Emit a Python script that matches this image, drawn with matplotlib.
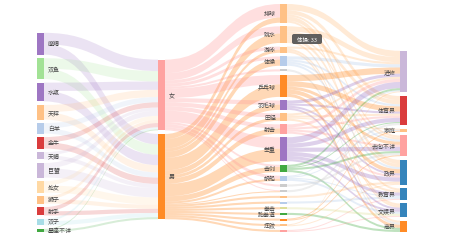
import matplotlib
matplotlib.use("Agg")
import matplotlib.pyplot as plt
from matplotlib.path import Path
from matplotlib.patches import PathPatch, Rectangle, FancyBboxPatch

plt.rcParams['font.family'] = ['Noto Sans CJK SC', 'DejaVu Sans']

# ---- data ----
zodiac = ['摩羯', '双鱼', '水瓶', '天秤', '白羊', '金牛', '天蝎', '巨蟹',
          '处女', '狮子', '射手', '双子', '星座不详']
genders = ['女', '男']
sports = ['排球', '跳水', '游泳', '体操', '网球', '乒乓球', '羽毛球', '田径',
          '射击', '举重', '击剑', '帆船', '柔道', '曲棍球', '皮划艇', '赛艇',
          '拳击', '跆拳道', '蹦床', '摔跤', '马术']
careers = ['进修', '体育界', '家庭', '去向不详', '政界', '教育界', '文娱界', '商界']

zodiac_female = [11, 10, 8, 7, 5, 5, 3, 5, 4, 3, 4, 2, 1]
zodiac_male = [10, 10, 10, 7, 5, 6, 4, 9, 7, 4, 4, 4, 2]

sport_female = [13, 7, 3, 3, 2, 9, 4, 4, 4, 11, 2, 3, 2, 1, 0, 0, 0, 0, 0, 0, 0]
sport_male = [5, 9, 3, 6, 0, 12, 5, 3, 5, 12, 5, 2, 0, 1, 2, 2, 2, 2, 2, 2, 2]

career_links = [
    ('排球', '进修', 6), ('排球', '体育界', 4), ('排球', '去向不详', 2), ('排球', '政界', 4), ('排球', '教育界', 2),
    ('跳水', '进修', 5), ('跳水', '体育界', 4), ('跳水', '去向不详', 2), ('跳水', '政界', 3), ('跳水', '文娱界', 2),
    ('游泳', '进修', 2), ('游泳', '文娱界', 2), ('游泳', '商界', 2),
    ('体操', '进修', 3), ('体操', '体育界', 2), ('体操', '去向不详', 2), ('体操', '政界', 2),
    ('网球', '商界', 2),
    ('乒乓球', '进修', 6), ('乒乓球', '体育界', 5), ('乒乓球', '去向不详', 3), ('乒乓球', '政界', 4), ('乒乓球', '商界', 3),
    ('羽毛球', '进修', 3), ('羽毛球', '体育界', 2), ('羽毛球', '政界', 2), ('羽毛球', '文娱界', 2),
    ('田径', '进修', 2), ('田径', '体育界', 2), ('田径', '家庭', 1), ('田径', '教育界', 2),
    ('射击', '进修', 3), ('射击', '体育界', 2), ('射击', '去向不详', 2), ('射击', '政界', 2),
    ('举重', '进修', 6), ('举重', '体育界', 4), ('举重', '去向不详', 4), ('举重', '政界', 4), ('举重', '教育界', 3), ('举重', '文娱界', 2),
    ('击剑', '进修', 2), ('击剑', '体育界', 1), ('击剑', '去向不详', 2), ('击剑', '商界', 2),
    ('帆船', '进修', 1), ('帆船', '家庭', 1), ('帆船', '教育界', 1), ('帆船', '文娱界', 2),
    ('柔道', '去向不详', 2), ('曲棍球', '体育界', 2), ('皮划艇', '政界', 2), ('赛艇', '教育界', 2),
    ('拳击', '文娱界', 2), ('跆拳道', '商界', 2), ('蹦床', '去向不详', 1), ('蹦床', '家庭', 1),
    ('摔跤', '进修', 1), ('摔跤', '政界', 1), ('马术', '教育界', 1), ('马术', '文娱界', 1),
]

tooltip_text = '体操: 33'

# ---- style ----
zodiac_colors = ['#9467bd', '#98df8a', '#9467bd', '#ffbb78', '#aec7e8', '#d62728', '#c5b0d5',
                 '#c5b0d5', '#ffd59a', '#ffbb78', '#d62728', '#9edae5', '#2ca02c']
gender_colors = ['#ff9896', '#ff7f0e']
sport_colors = ['#ffbb78', '#ffbb78', '#ffbb78', '#aec7e8', '#c7c7c7', '#ff7f0e', '#9467bd', '#ffbb78',
                '#ff9896', '#9467bd', '#2ca02c', '#aec7e8', '#c7c7c7', '#c7c7c7', '#ffbb78', '#aec7e8',
                '#dbdb8d', '#2ca02c', '#ff7f0e', '#ffbb78', '#ff9896']
career_colors = ['#c5b0d5', '#d62728', '#ffbb78', '#ff9896', '#1f77b4', '#1f77b4', '#1f77b4', '#ff7f0e']
hidden_labels = {'网球', '柔道', '曲棍球', '皮划艇', '赛艇', '蹦床', '马术'}

W, H = 465, 253
col_x = [37, 158, 280, 400]
node_w = 7
top, bottom = 5, 233
gap = 3.6

columns = [zodiac, genders, sports, careers]
col_colors = [zodiac_colors, gender_colors, sport_colors, career_colors]

links = []
for i, z in enumerate(zodiac):
    links.append((z, '女', zodiac_female[i]))
    links.append((z, '男', zodiac_male[i]))
for i, s in enumerate(sports):
    if sport_female[i]:
        links.append(('女', s, sport_female[i]))
    if sport_male[i]:
        links.append(('男', s, sport_male[i]))
links += career_links

col_of, idx_of, color = {}, {}, {}
for c, names in enumerate(columns):
    for i, n in enumerate(names):
        col_of[n] = c
        idx_of[n] = i
        color[n] = col_colors[c][i]

vin = {n: 0 for n in col_of}
vout = {n: 0 for n in col_of}
for s, t, v in links:
    vout[s] += v
    vin[t] += v
val = {n: max(vin[n], vout[n]) for n in col_of}

ky = min((bottom - top - (len(c) - 1) * gap) / sum(val[n] for n in c) for c in columns)
h = {n: val[n] * ky for n in col_of}

pos = {}
for c in columns:
    y = top
    for n in c:
        pos[n] = y
        y += h[n] + gap


def resolve(col):
    y = top
    for n in col:
        if pos[n] < y:
            pos[n] = y
        y = pos[n] + h[n] + gap
    y = bottom
    for n in reversed(col):
        if pos[n] + h[n] > y:
            pos[n] = y - h[n]
        y = pos[n] - gap


def center(n):
    return pos[n] + h[n] / 2


for it in range(32):
    alpha = 0.99 ** it
    for c in columns[1:]:
        for n in c:
            nb = [(s, v) for s, t, v in links if t == n]
            w = sum(v for _, v in nb)
            if w:
                m = sum(center(s) * v for s, v in nb) / w
                pos[n] += (m - center(n)) * alpha
        resolve(c)
    for c in reversed(columns[:-1]):
        for n in c:
            nb = [(t, v) for s, t, v in links if s == n]
            w = sum(v for _, v in nb)
            if w:
                m = sum(center(t) * v for t, v in nb) / w
                pos[n] += (m - center(n)) * alpha
        resolve(c)

fig = plt.figure(figsize=(W / 100, H / 100), dpi=100)
ax = fig.add_axes([0, 0, 1, 1])
ax.set_xlim(0, W)
ax.set_ylim(H, 0)
ax.axis('off')

out_off = {n: pos[n] for n in col_of}
in_off = {n: pos[n] for n in col_of}
for s, t, v in sorted(links, key=lambda l: (col_of[l[0]], idx_of[l[0]], idx_of[l[1]])):
    pass

# outgoing ordered by target index, incoming by source index
src_y, tgt_y = {}, {}
for n in col_of:
    y = pos[n]
    for l in sorted([l for l in links if l[0] == n], key=lambda l: idx_of[l[1]]):
        src_y[l] = y
        y += l[2] * ky
    y = pos[n]
    for l in sorted([l for l in links if l[1] == n], key=lambda l: idx_of[l[0]]):
        tgt_y[l] = y
        y += l[2] * ky

for l in links:
    s, t, v = l
    x0 = col_x[col_of[s]] + node_w
    x1 = col_x[col_of[t]]
    xm = (x0 + x1) / 2
    sy0, ty0 = src_y[l], tgt_y[l]
    d = v * ky
    verts = [(x0, sy0), (xm, sy0), (xm, ty0), (x1, ty0),
             (x1, ty0 + d), (xm, ty0 + d), (xm, sy0 + d), (x0, sy0 + d), (x0, sy0)]
    codes = [Path.MOVETO, Path.CURVE4, Path.CURVE4, Path.CURVE4,
             Path.LINETO, Path.CURVE4, Path.CURVE4, Path.CURVE4, Path.CLOSEPOLY]
    a = 0.18 if col_of[s] == 0 else 0.3
    ax.add_patch(PathPatch(Path(verts, codes), facecolor=color[s], edgecolor='none', alpha=a))

for n in col_of:
    c = col_of[n]
    ax.add_patch(Rectangle((col_x[c], pos[n]), node_w, h[n], facecolor=color[n],
                           edgecolor='none', alpha=0.9))
    if n in hidden_labels:
        continue
    if c < 2:
        ax.text(col_x[c] + node_w + 4, center(n), n, fontsize=4.3, color='#444',
                ha='left', va='center')
    else:
        ax.text(col_x[c] - 4, center(n), n, fontsize=4.3, color='#444',
                ha='right', va='center')

ax.add_patch(FancyBboxPatch((292, 35), 30, 10, boxstyle='round,pad=0,rounding_size=2',
                            facecolor='#505050', edgecolor='none', alpha=0.9))
ax.text(307, 40, tooltip_text, fontsize=4, color='white', ha='center', va='center')

fig.savefig('out.png', dpi=100, facecolor='white')
